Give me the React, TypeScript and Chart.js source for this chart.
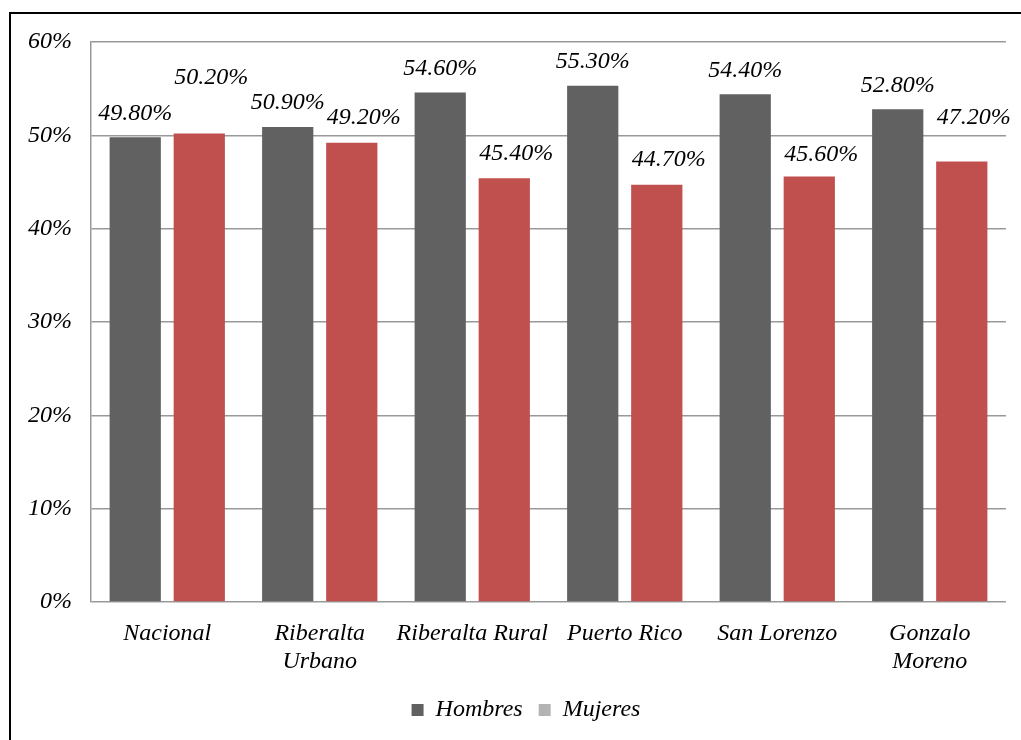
import React, { useEffect, useRef } from "react";
import { Chart, registerables } from "chart.js";

Chart.register(...registerables);

const categories: (string | string[])[] = [
  "Nacional",
  ["Riberalta", "Urbano"],
  "Riberalta Rural",
  "Puerto Rico",
  "San Lorenzo",
  ["Gonzalo", "Moreno"],
];
const hombres = [49.8, 50.9, 54.6, 55.3, 54.4, 52.8];
const mujeres = [50.2, 49.2, 45.4, 44.7, 45.6, 47.2];
const yTicks = [0, 10, 20, 30, 40, 50, 60];

// label placement offsets (relative to each bar top)
const hombresLabelDy = [-24, -24, -24, -24, -24, -24];
const mujeresLabelDy = [-56, -25, -25, -25, -22, -44];

const FONT = "'Liberation Serif', 'Times New Roman', serif";
const LEGEND_SHIFT = 23;

const dataLabelPlugin = {
  id: "dataLabels",
  afterDatasetsDraw(chart: any) {
    const ctx = chart.ctx;
    ctx.save();
    ctx.font = `italic 24px ${FONT}`;
    ctx.fillStyle = "#000";
    ctx.textAlign = "center";
    ctx.textBaseline = "middle";
    chart.data.datasets.forEach((ds: any, di: number) => {
      const meta = chart.getDatasetMeta(di);
      meta.data.forEach((bar: any, i: number) => {
        const v = ds.data[i];
        const dx = di === 0 ? 0 : 12;
        const dy = di === 0 ? hombresLabelDy[i] : mujeresLabelDy[i];
        ctx.fillText(v.toFixed(2) + "%", bar.x + dx, bar.y + dy);
      });
    });
    ctx.restore();
  },
};

const legendShiftPlugin = {
  id: "legendShift",
  afterLayout(chart: any) {
    if (chart.legend) {
      chart.legend.left += LEGEND_SHIFT;
      chart.legend.right += LEGEND_SHIFT;
    }
  },
};

export default function App() {
  const ref = useRef<HTMLCanvasElement>(null);
  useEffect(() => {
    document.body.style.margin = "0";
    const chart = new Chart(ref.current!, {
      type: "bar",
      data: {
        labels: categories,
        datasets: [
          {
            label: "Hombres",
            data: hombres,
            backgroundColor: "#616161",
            categoryPercentage: 0.84,
            barPercentage: 0.8,
          },
          {
            label: "Mujeres",
            data: mujeres,
            backgroundColor: "#C0504D",
            categoryPercentage: 0.84,
            barPercentage: 0.8,
          },
        ],
      },
      options: {
        animation: false,
        responsive: false,
        maintainAspectRatio: false,
        layout: { padding: { left: 0, right: 15, top: 42, bottom: 8 } },
        scales: {
          x: {
            grid: { display: false, drawTicks: false },
            border: { display: false },
            ticks: {
              font: { family: FONT, style: "italic", size: 24, lineHeight: 1.17 },
              color: "#000",
              padding: 18,
              maxRotation: 0,
              autoSkip: false,
            },
            afterFit(scale: any) {
              scale.height = 80;
            },
          },
          y: {
            min: 0,
            max: 60,
            afterBuildTicks(scale: any) {
              scale.ticks = yTicks.map((v) => ({ value: v }));
            },
            grid: { color: "#999999", lineWidth: 1.5, drawTicks: false },
            border: { display: true, color: "#999999", width: 1.5 },
            ticks: {
              font: { family: FONT, style: "italic", size: 24 },
              color: "#000",
              padding: 19,
              callback: (v: any) => v + "%",
            },
            afterFit(scale: any) {
              scale.width = 91;
            },
          },
        },
        plugins: {
          tooltip: { enabled: false },
          legend: {
            position: "bottom",
            labels: {
              font: { family: FONT, style: "italic", size: 24 },
              color: "#000",
              boxWidth: 12,
              boxHeight: 12,
              padding: 16,
              generateLabels: () => [
                { text: "Hombres", fillStyle: "#616161", strokeStyle: "#616161", lineWidth: 0, datasetIndex: 0, hidden: false },
                { text: "Mujeres", fillStyle: "#B3B3B3", strokeStyle: "#B3B3B3", lineWidth: 0, datasetIndex: 1, hidden: false },
              ],
            },
          },
        },
      },
      plugins: [dataLabelPlugin, legendShiftPlugin],
    });
    return () => chart.destroy();
  }, []);
  return (
    <div style={{ position: "absolute", left: 0, top: 0, width: 1021, height: 740, overflow: "hidden", background: "#fff" }}>
      <div
        style={{
          position: "absolute",
          left: 9,
          top: 12,
          width: 1100,
          height: 800,
          border: "2px solid #000",
          boxSizing: "border-box",
        }}
      />
      <canvas ref={ref} width={1021} height={740} style={{ position: "absolute", left: 0, top: 0, width: 1021, height: 740 }} />
    </div>
  );
}
